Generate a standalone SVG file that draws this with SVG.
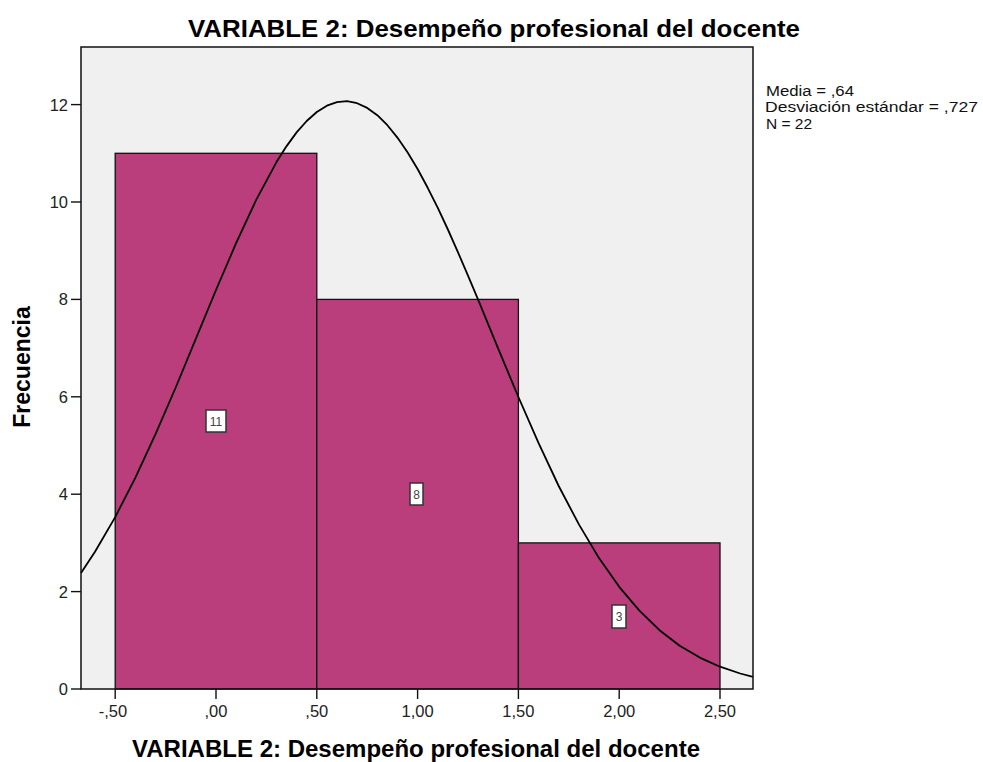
<svg xmlns="http://www.w3.org/2000/svg" width="983" height="762" viewBox="0 0 983 762">
<style>
.t{font-family:"Liberation Sans",Arial,sans-serif;fill:#000}
.title{font-size:24.5px;font-weight:bold}
.axt{font-size:23px;font-weight:bold}
.tick{font-size:16.5px;fill:#222}
.leg{font-size:15.5px;fill:#111}
.bar{fill:#BA3E7C;stroke:#111;stroke-width:1.3}
.tk{stroke:#111;stroke-width:1.4}
.lbox{fill:#fff;stroke:#333;stroke-width:1.5}
.ltxt{font-family:"Liberation Sans",Arial,sans-serif;font-size:12px;fill:#444;text-anchor:middle}
</style>
<rect width="983" height="762" fill="#fff"/>
<text class="t title" x="188" y="37" textLength="612" lengthAdjust="spacingAndGlyphs">VARIABLE 2: Desempeño profesional del docente</text>
<g id="plot-area">
<rect x="81" y="47" width="672" height="642" fill="#F0F0F0"/>
</g>
<g id="bars">
<g id="bar-1"><rect class="bar" x="115.2" y="153.3" width="201.6" height="535.7"/></g>
<g id="bar-2"><rect class="bar" x="316.8" y="299.4" width="201.6" height="389.6"/></g>
<g id="bar-3"><rect class="bar" x="518.4" y="542.9" width="201.6" height="146.1"/></g>
</g>
<g id="normal-curve">
<polyline fill="none" stroke="#000" stroke-width="1.8" stroke-linejoin="round" points="81.0,573.1 95.0,551.7 115.2,517.1 135.4,477.7 155.5,434.2 175.7,387.5 195.8,338.8 216.0,290.0 236.2,242.9 256.3,199.6 276.5,162.1 286.6,146.1 296.6,132.4 306.7,121.0 316.8,112.0 326.9,105.7 337.0,102.1 347.0,101.2 357.1,103.2 367.2,107.9 377.3,115.2 387.4,125.2 397.4,137.6 407.5,152.3 417.6,169.0 427.7,187.8 437.8,207.8 447.9,229.5 457.9,252.1 468.0,275.7 478.1,299.7 498.2,348.6 518.4,397.0 538.6,443.2 558.7,486.0 578.9,524.4 599.0,558.1 619.2,586.8 639.4,610.7 659.5,630.2 679.7,645.7 699.8,657.6 720.0,666.7 740.2,673.5 753.0,676.8"/>
</g>
<g id="bar-labels">
<g id="label-11"><rect class="lbox" x="206" y="410" width="20" height="22"/><text class="ltxt" x="216" y="425.5">11</text></g>
<g id="label-8"><rect class="lbox" x="410" y="483" width="13" height="22"/><text class="ltxt" x="416.5" y="498.5">8</text></g>
<g id="label-3"><rect class="lbox" x="612" y="605" width="14" height="23"/><text class="ltxt" x="619" y="620.5">3</text></g>
</g>
<g id="frame">
<rect x="81" y="47" width="672" height="642" fill="none" stroke="#111" stroke-width="1.5"/>
</g>
<g id="y-axis">
<g class="tk">
<line x1="71" y1="689" x2="81" y2="689"/>
<line x1="71" y1="591.6" x2="81" y2="591.6"/>
<line x1="71" y1="494.2" x2="81" y2="494.2"/>
<line x1="71" y1="396.8" x2="81" y2="396.8"/>
<line x1="71" y1="299.4" x2="81" y2="299.4"/>
<line x1="71" y1="202" x2="81" y2="202"/>
<line x1="71" y1="104.6" x2="81" y2="104.6"/>
</g>
<g class="t tick" text-anchor="end">
<text x="68" y="695">0</text>
<text x="68" y="597.6">2</text>
<text x="68" y="500.2">4</text>
<text x="68" y="402.8">6</text>
<text x="68" y="305.4">8</text>
<text x="68" y="208">10</text>
<text x="68" y="110.6">12</text>
</g>
<text class="t axt" transform="translate(30,367) rotate(-90)" text-anchor="middle">Frecuencia</text>
</g>
<g id="x-axis">
<g class="tk">
<line x1="115.2" y1="689" x2="115.2" y2="699"/>
<line x1="216" y1="689" x2="216" y2="699"/>
<line x1="316.8" y1="689" x2="316.8" y2="699"/>
<line x1="417.6" y1="689" x2="417.6" y2="699"/>
<line x1="518.4" y1="689" x2="518.4" y2="699"/>
<line x1="619.2" y1="689" x2="619.2" y2="699"/>
<line x1="720" y1="689" x2="720" y2="699"/>
</g>
<g class="t tick" text-anchor="middle">
<text x="113" y="717">-,50</text>
<text x="216" y="717">,00</text>
<text x="316.8" y="717">,50</text>
<text x="417.6" y="717">1,00</text>
<text x="518.4" y="717">1,50</text>
<text x="619.2" y="717">2,00</text>
<text x="720" y="717">2,50</text>
</g>
<text class="t axt" x="132" y="757" textLength="568" lengthAdjust="spacingAndGlyphs">VARIABLE 2: Desempeño profesional del docente</text>
</g>
<g id="legend" class="t leg">
<text x="766" y="96" textLength="88" lengthAdjust="spacingAndGlyphs">Media = ,64</text>
<text x="765" y="112" textLength="213" lengthAdjust="spacingAndGlyphs">Desviación estándar = ,727</text>
<text x="766" y="129">N = 22</text>
</g>
</svg>
